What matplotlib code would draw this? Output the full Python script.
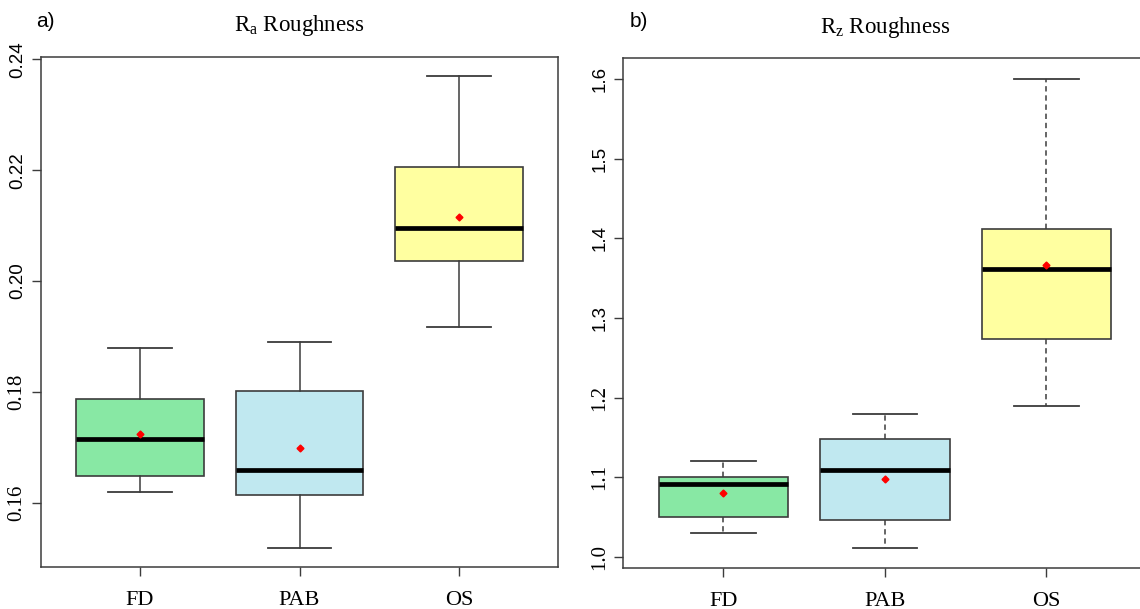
import matplotlib
matplotlib.use("Agg")
import matplotlib.pyplot as plt

plt.rcParams["mathtext.fontset"] = "custom"
plt.rcParams["mathtext.rm"] = "Liberation Serif"

categories = ["FD", "PAB", "OS"]
colors = ["#88e8a4", "#c0e8f0", "#ffffa0"]

# Ra roughness
ra_low = [0.1619, 0.1518, 0.1918]
ra_q1 = [0.1649, 0.1615, 0.2036]
ra_med = [0.1715, 0.1659, 0.2095]
ra_q3 = [0.1787, 0.1801, 0.2205]
ra_high = [0.1879, 0.1890, 0.2369]
ra_mean = [0.1725, 0.1699, 0.2116]
ra_ticks = [0.16, 0.18, 0.20, 0.22, 0.24]
ra_ticklabels = ["0.16", "0.18", "0.20", "0.22", "0.24"]

# Rz roughness
rz_low = [1.030, 1.011, 1.190]
rz_q1 = [1.050, 1.047, 1.274]
rz_med = [1.092, 1.109, 1.361]
rz_q3 = [1.100, 1.148, 1.412]
rz_high = [1.120, 1.180, 1.600]
rz_mean = [1.080, 1.098, 1.367]
rz_ticks = [1.0, 1.1, 1.2, 1.3, 1.4, 1.5, 1.6]
rz_ticklabels = ["1.0", "1.1", "1.2", "1.3", "1.4", "1.5", "1.6"]

edge = "#3c3c3c"
serif = "Liberation Serif"
sans = "Liberation Sans"


def make_stats(low, q1, med, q3, high, mean):
    stats = []
    for i in range(len(categories)):
        stats.append(dict(whislo=low[i], q1=q1[i], med=med[i], q3=q3[i],
                          whishi=high[i], mean=mean[i], fliers=[],
                          label=categories[i]))
    return stats


def draw(ax, stats, whisker_style, ticks, ticklabels, sans_from, ylim):
    bp = ax.bxp(stats, widths=0.8, capwidths=0.4, patch_artist=True,
                showmeans=True,
                boxprops=dict(edgecolor=edge, linewidth=1.2),
                whiskerprops=dict(color=edge, linewidth=1.1,
                                  linestyle=whisker_style),
                capprops=dict(color=edge, linewidth=1.3),
                medianprops=dict(color="black", linewidth=3.4),
                meanprops=dict(marker="D", markersize=3.5,
                               markerfacecolor="red", markeredgecolor="red"))
    for patch, c in zip(bp["boxes"], colors):
        patch.set_facecolor(c)
    ax.set_xlim(0.38, 3.62)
    ax.set_ylim(*ylim)
    ax.set_xticks([1, 2, 3])
    ax.set_xticklabels(categories, family=serif, fontsize=16)
    ax.set_yticks(ticks)
    ax.set_yticklabels(ticklabels, rotation=90, va="center")
    for lab, t in zip(ax.get_yticklabels(), ticks):
        if t >= sans_from - 1e-9:
            lab.set_family(sans)
            lab.set_fontsize(13.5)
        else:
            lab.set_family(serif)
            lab.set_fontsize(15)
    ax.tick_params(axis="both", length=6.5, width=1, color=edge)
    ax.tick_params(axis="x", pad=10.5)
    ax.tick_params(axis="y", pad=4)
    for s in ax.spines.values():
        s.set_color(edge)
        s.set_linewidth(1.1)


fig = plt.figure(figsize=(11.4, 6.09), dpi=100)
ax1 = fig.add_axes([41 / 1140, 1 - 567.3 / 609, 517 / 1140, 510.3 / 609])
ax2 = fig.add_axes([623.3 / 1140, 1 - 568.3 / 609, 523.3 / 1140, 510 / 609])

draw(ax1, make_stats(ra_low, ra_q1, ra_med, ra_q3, ra_high, ra_mean), "-",
     ra_ticks, ra_ticklabels, 0.20, (0.1484, 0.2404))
draw(ax2, make_stats(rz_low, rz_q1, rz_med, rz_q3, rz_high, rz_mean),
     (0, (3.5, 2.5)), rz_ticks, rz_ticklabels, 1.3, (0.9858, 1.626))

ax1.text(0.5, 1.05, r"R$_\mathregular{a}$ Roughness", transform=ax1.transAxes,
         ha="center", va="baseline", family=serif, fontsize=16.5)
ax2.text(0.5, 1.05, r"R$_\mathregular{z}$ Roughness", transform=ax2.transAxes,
         ha="center", va="baseline", family=serif, fontsize=16.5)

fig.text(36 / 1140, 1 - 27 / 609, "a)", family=sans, fontsize=15, va="baseline")
fig.text(630 / 1140, 1 - 27 / 609, "b)", family=sans, fontsize=15, va="baseline")

fig.savefig("out.png", dpi=100)
